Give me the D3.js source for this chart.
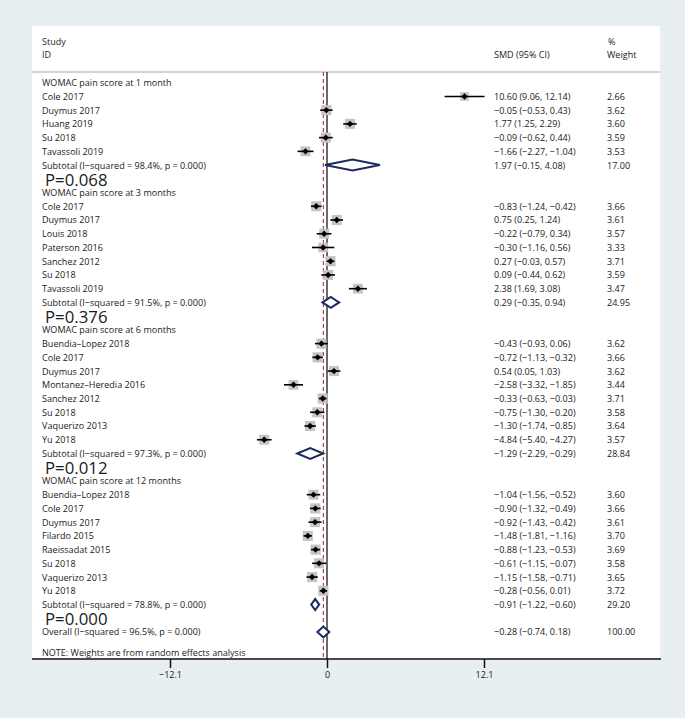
<!DOCTYPE html>
<html>
<head>
<meta charset="utf-8">
<script src="https://cdn.jsdelivr.net/npm/d3@7"></script>
<style>
  body { margin: 0; background: #e8eff1; }
  svg text { font-family: "Open Sans", sans-serif; fill: #1a1a1a; }
</style>
</head>
<body>
<div id="chart"></div>
<script>
// groups and studies
const groupLabels = [
  "WOMAC pain score at 1 month",
  "WOMAC pain score at 3 months",
  "WOMAC pain score at 6 months",
  "WOMAC pain score at 12 months"
];
const groupOf = [0,0,0,0,0, 1,1,1,1,1,1,1, 2,2,2,2,2,2,2,2, 3,3,3,3,3,3,3,3];
const studyIds = [
  "Cole 2017", "Duymus 2017", "Huang 2019", "Su 2018", "Tavassoli 2019",
  "Cole 2017", "Duymus 2017", "Louis 2018", "Paterson 2016", "Sanchez 2012", "Su 2018", "Tavassoli 2019",
  "Buendia\u2013Lopez 2018", "Cole 2017", "Duymus 2017", "Montanez\u2013Heredia 2016", "Sanchez 2012", "Su 2018", "Vaquerizo 2013", "Yu 2018",
  "Buendia\u2013Lopez 2018", "Cole 2017", "Duymus 2017", "Filardo 2015", "Raeissadat 2015", "Su 2018", "Vaquerizo 2013", "Yu 2018"
];
const smd = [
  10.60, -0.05, 1.77, -0.09, -1.66,
  -0.83, 0.75, -0.22, -0.30, 0.27, 0.09, 2.38,
  -0.43, -0.72, 0.54, -2.58, -0.33, -0.75, -1.30, -4.84,
  -1.04, -0.90, -0.92, -1.48, -0.88, -0.61, -1.15, -0.28
];
const ciLow = [
  9.06, -0.53, 1.25, -0.62, -2.27,
  -1.24, 0.25, -0.79, -1.16, -0.03, -0.44, 1.69,
  -0.93, -1.13, 0.05, -3.32, -0.63, -1.30, -1.74, -5.40,
  -1.56, -1.32, -1.43, -1.81, -1.23, -1.15, -1.58, -0.56
];
const ciHigh = [
  12.14, 0.43, 2.29, 0.44, -1.04,
  -0.42, 1.24, 0.34, 0.56, 0.57, 0.62, 3.08,
  0.06, -0.32, 1.03, -1.85, -0.03, -0.20, -0.85, -4.27,
  -0.52, -0.49, -0.42, -1.16, -0.53, -0.07, -0.71, 0.01
];
const weight = [
  2.66, 3.62, 3.60, 3.59, 3.53,
  3.66, 3.61, 3.57, 3.33, 3.71, 3.59, 3.47,
  3.62, 3.66, 3.62, 3.44, 3.71, 3.58, 3.64, 3.57,
  3.60, 3.66, 3.61, 3.70, 3.69, 3.58, 3.65, 3.72
];

// subtotals
const subtotalLabels = [
  "Subtotal  (I\u2212squared = 98.4%, p = 0.000)",
  "Subtotal  (I\u2212squared = 91.5%, p = 0.000)",
  "Subtotal  (I\u2212squared = 97.3%, p = 0.000)",
  "Subtotal  (I\u2212squared = 78.8%, p = 0.000)"
];
const subtotalSmd = [1.97, 0.29, -1.29, -0.91];
const subtotalLow = [-0.15, -0.35, -2.29, -1.22];
const subtotalHigh = [4.08, 0.94, -0.29, -0.60];
const subtotalWeight = [17.00, 24.95, 28.84, 29.20];
const pLabels = ["P=0.068", "P=0.376", "P=0.012", "P=0.000"];

// overall
const overallLabel = "Overall  (I\u2212squared = 96.5%, p = 0.000)";
const overallSmd = -0.28, overallLow = -0.74, overallHigh = 0.18, overallWeight = 100.00;

const xTicks = [-12.1, 0, 12.1];

// build row list
const rows = [];
groupLabels.forEach((g, gi) => {
  rows.push({ type: "header", label: g });
  studyIds.forEach((s, i) => {
    if (groupOf[i] === gi) {
      rows.push({ type: "study", label: s, est: smd[i], lo: ciLow[i], hi: ciHigh[i], w: weight[i] });
    }
  });
  rows.push({ type: "subtotal", label: subtotalLabels[gi], est: subtotalSmd[gi], lo: subtotalLow[gi], hi: subtotalHigh[gi], w: subtotalWeight[gi], p: pLabels[gi] });
  if (gi < groupLabels.length - 1) rows.push({ type: "gap" });
});
rows.push({ type: "gap" });
rows.push({ type: "overall", label: overallLabel, est: overallSmd, lo: overallLow, hi: overallHigh, w: overallWeight });

const width = 685, height = 718;
const panel = { left: 32, right: 660, top: 26, bottom: 659 };
const headerLine = 72;
const colCI = 494, colW = 607, colText = 42;
const fontSize = 9.8;
const squeeze = 0.925; // narrow the glyphs a bit

const fmt = d3.format(".2f");

const x = d3.scaleLinear().domain([-12.1, 12.1]).range([170, 484]);
const y = d3.scaleLinear().domain([0, rows.length - 1]).range([82.7, 632]);
const boxSize = d3.scaleSqrt().domain([0, 3.6]).range([0, 10]);

// place a text at (px, py) with the narrowed glyphs
function place(sel, px, py) {
  sel.attr("x", 0).attr("y", 0)
    .attr("transform", (d, i) => {
      const a = typeof px === "function" ? px(d, i) : px;
      const b = typeof py === "function" ? py(d, i) : py;
      return `translate(${a}, ${b}) scale(${squeeze}, 1)`;
    });
  return sel;
}

const svg = d3.select("#chart").append("svg")
  .attr("width", width)
  .attr("height", height);

svg.append("rect")
  .attr("width", width).attr("height", height)
  .attr("fill", "#e8eff1");

svg.append("rect")
  .attr("x", panel.left).attr("y", panel.top)
  .attr("width", panel.right - panel.left)
  .attr("height", panel.bottom - panel.top)
  .attr("fill", "#fff");

// column headers
const head = svg.append("g").attr("font-size", fontSize);
place(head.append("text").attr("dy", "0.35em").text("Study"), colText, 42);
place(head.append("text").attr("dy", "0.35em").text("ID"), colText, 54.5);
place(head.append("text").attr("dy", "0.35em").text("SMD (95% CI)"), colCI, 54.5);
place(head.append("text").attr("dy", "0.35em").text("%"), colW + 1, 42);
place(head.append("text").attr("dy", "0.35em").text("Weight"), colW, 54.5);

svg.append("line")
  .attr("x1", panel.left).attr("x2", panel.right)
  .attr("y1", headerLine).attr("y2", headerLine)
  .attr("stroke", "#a8a8a8").attr("stroke-width", 1);

// null line and overall effect line
svg.append("line")
  .attr("x1", x(0)).attr("x2", x(0))
  .attr("y1", headerLine).attr("y2", panel.bottom)
  .attr("stroke", "#444").attr("stroke-width", 1.6);

svg.append("line")
  .attr("x1", x(overallSmd)).attr("x2", x(overallSmd))
  .attr("y1", headerLine).attr("y2", panel.bottom)
  .attr("stroke", "#a8323a").attr("stroke-width", 1.1)
  .attr("stroke-dasharray", "4,3");

const chart = svg.append("g").attr("font-size", fontSize);

// row labels
place(chart.selectAll(".label")
  .data(rows.filter(d => d.label))
  .enter()
  .append("text")
  .attr("class", "label")
  .attr("dy", "0.35em")
  .text(d => d.label), colText, d => y(rows.indexOf(d)));

const est = rows.filter(d => d.est !== undefined);

place(chart.selectAll(".ci")
  .data(est)
  .enter()
  .append("text")
  .attr("class", "ci")
  .attr("dy", "0.35em")
  .text(d => `${fmt(d.est)} (${fmt(d.lo)}, ${fmt(d.hi)})`), colCI, d => y(rows.indexOf(d)));

place(chart.selectAll(".wt")
  .data(est)
  .enter()
  .append("text")
  .attr("class", "wt")
  .attr("dy", "0.35em")
  .text(d => fmt(d.w)), colW, d => y(rows.indexOf(d)));

// P labels under each subtotal
const subs = rows.filter(d => d.type === "subtotal");
const pl = chart.selectAll(".pval")
  .data(subs)
  .enter()
  .append("g")
  .attr("class", "pval");
pl.append("text")
  .attr("x", colText + 0.5)
  .attr("y", d => y(rows.indexOf(d)) + 17)
  .attr("font-size", 5)
  .text("\u00b7");
pl.append("text")
  .attr("x", colText + 3)
  .attr("y", d => y(rows.indexOf(d)) + 20.5)
  .attr("font-size", 16.8)
  .text(d => d.p);

// study markers
const studies = rows.filter(d => d.type === "study");
const mark = chart.selectAll(".study")
  .data(studies)
  .enter()
  .append("g")
  .attr("class", "study")
  .attr("transform", d => `translate(0, ${y(rows.indexOf(d))})`);

mark.append("rect")
  .attr("x", d => x(d.est) - boxSize(d.w) / 2)
  .attr("y", d => -boxSize(d.w) / 2)
  .attr("width", d => boxSize(d.w))
  .attr("height", d => boxSize(d.w))
  .attr("fill", "#c4c4c4");

mark.append("line")
  .attr("x1", d => x(d.lo))
  .attr("x2", d => x(d.hi))
  .attr("stroke", "#000")
  .attr("stroke-width", 1.6);

mark.append("path")
  .attr("d", d => {
    const cx = x(d.est), r = 3.2;
    return `M${cx - r},0 L${cx},${-r} L${cx + r},0 L${cx},${r} Z`;
  })
  .attr("fill", "#000");

// pooled diamonds
const pooled = rows.filter(d => d.type === "subtotal" || d.type === "overall");
chart.selectAll(".diamond")
  .data(pooled)
  .enter()
  .append("path")
  .attr("class", "diamond")
  .attr("d", d => {
    const cy = y(rows.indexOf(d)), h = 5.5;
    return `M${x(d.lo)},${cy} L${x(d.est)},${cy - h} L${x(d.hi)},${cy} L${x(d.est)},${cy + h} Z`;
  })
  .attr("fill", "#fff")
  .attr("stroke", "#1c2b5e")
  .attr("stroke-width", 2);

place(chart.append("text")
  .attr("dy", "0.35em")
  .text("NOTE: Weights are from random effects analysis"), colText, 653);

// x axis
svg.append("line")
  .attr("x1", panel.left).attr("x2", panel.right + 1)
  .attr("y1", panel.bottom).attr("y2", panel.bottom)
  .attr("stroke", "#111").attr("stroke-width", 1.5);

const xAxis = d3.axisBottom(x)
  .tickValues(xTicks)
  .tickSize(9)
  .tickPadding(3)
  .tickFormat(d => d === 0 ? "0" : d3.format(".1f")(d));

const ax = svg.append("g")
  .attr("transform", `translate(0, ${panel.bottom})`)
  .call(xAxis);
ax.select(".domain").remove();
ax.selectAll(".tick line").attr("stroke", "#111").attr("stroke-width", 1.5);
ax.selectAll(".tick text")
  .attr("font-size", fontSize)
  .attr("font-family", "Open Sans, sans-serif")
  .attr("fill", "#1a1a1a")
  .attr("transform", `scale(${squeeze}, 1)`);
</script>
</body>
</html>
